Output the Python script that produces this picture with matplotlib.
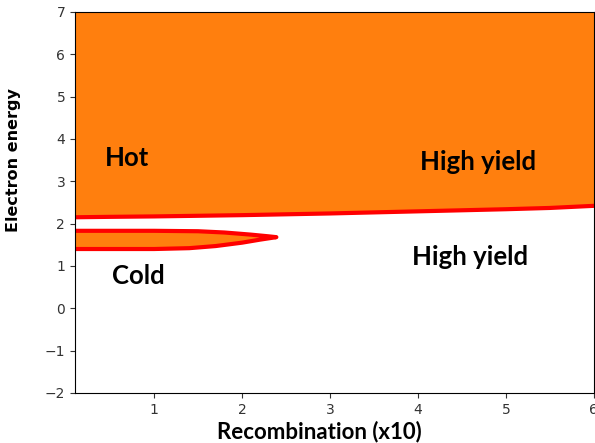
import matplotlib
matplotlib.use("Agg")
import matplotlib.pyplot as plt

# upper boundary (hot region above it)
upper_x = [0.1, 0.5, 1.0, 2.0, 3.0, 4.0, 5.0, 5.5, 6.0]
upper_y = [2.15, 2.16, 2.17, 2.20, 2.24, 2.29, 2.34, 2.37, 2.42]

# cold tongue: top edge then bottom edge, both from left to the tip
tongue_top_x = [0.1, 0.5, 1.0, 1.5, 1.8, 2.1, 2.3, 2.39]
tongue_top_y = [1.83, 1.83, 1.83, 1.82, 1.79, 1.74, 1.70, 1.68]
tongue_bot_x = [0.1, 0.5, 1.0, 1.4, 1.7, 2.0, 2.2, 2.39]
tongue_bot_y = [1.40, 1.40, 1.40, 1.42, 1.47, 1.55, 1.62, 1.68]

labels = [("Hot", 0.44, 3.56), ("High yield", 4.02, 3.46),
          ("Cold", 0.52, 0.77), ("High yield", 3.93, 1.2)]

orange = "#ff7f0e"

fig = plt.figure(figsize=(5.95, 4.43), dpi=100)
ax = fig.add_axes([0.126, 0.113, 0.872, 0.86])

ax.fill_between(upper_x, upper_y, 7, color=orange, lw=0)
ax.plot(upper_x, upper_y, color="red", lw=3)

tx = tongue_top_x + tongue_bot_x[::-1]
ty = tongue_top_y + tongue_bot_y[::-1]
ax.fill(tx, ty, color=orange, lw=0)
ax.plot(tx, ty, color="red", lw=3, solid_joinstyle="round")

for s, x, y in labels:
    ax.text(x, y, s, fontsize=18.5, fontweight="bold", family="Lato", va="center")

ax.set_xlim(0.1, 6)
ax.set_ylim(-2, 7)
ax.set_xticks([1, 2, 3, 4, 5, 6])
ax.set_yticks(range(-2, 8))
ax.tick_params(labelsize=10, colors="#333333")
ax.set_xlabel("Recombination (x10)", fontsize=16, fontweight="bold", family="Lato")
ax.set_ylabel("Electron energy", fontsize=11.5, fontweight="bold")
ax.xaxis.set_label_coords(0.472, -0.072)
ax.yaxis.set_label_coords(-0.104, 0.61)

fig.savefig("out.png", dpi=100)
